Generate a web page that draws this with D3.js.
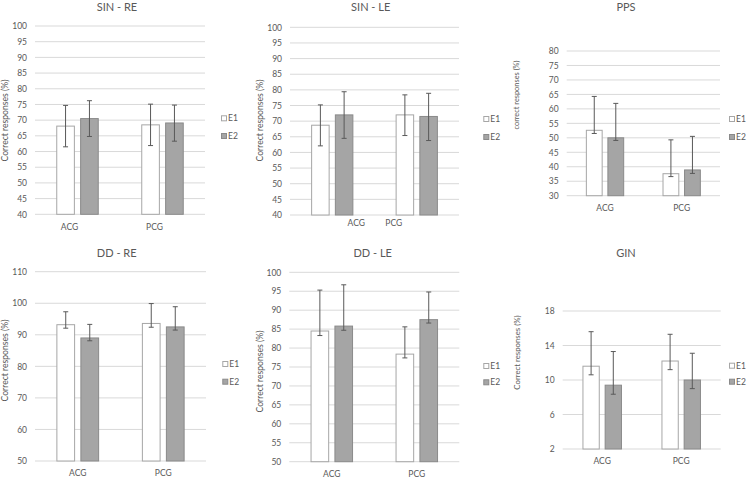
<!DOCTYPE html>
<html>
<head>
<meta charset="utf-8">
<script src="https://cdn.jsdelivr.net/npm/d3@7"></script>
<style>
  html, body { margin: 0; padding: 0; background: #fff; }
  svg { display: block; font-family: Lato, "Open Sans", sans-serif; }
</style>
</head>
<body>
<svg id="chart" width="747" height="480"></svg>
<script>
// ---------------- DATA ----------------
const categories = ["ACG", "PCG"];
const seriesNames = ["E1", "E2"];
const titles = ["SIN - RE", "SIN  - LE", "PPS", "DD - RE", "DD - LE", "GIN"];
const yLabels = [
  "Correct responses (%)", "Correct responses (%)", "correct responses (%)",
  "Correct responses (%)", "Correct responses (%)", "Correct responses (%)"
];
const yDomains = [[40, 100], [40, 100], [30, 80], [50, 110], [50, 100], [2, 18]];
const yTicks = [
  [40, 45, 50, 55, 60, 65, 70, 75, 80, 85, 90, 95, 100],
  [40, 45, 50, 55, 60, 65, 70, 75, 80, 85, 90, 95, 100],
  [30, 35, 40, 45, 50, 55, 60, 65, 70, 75, 80],
  [50, 60, 70, 80, 90, 100, 110],
  [50, 55, 60, 65, 70, 75, 80, 85, 90, 95, 100],
  [2, 6, 10, 14, 18]
];
// per panel: [ACG, PCG]
const e1Values = [[68.1, 68.5], [68.7, 72.0], [52.6, 37.6], [93.2, 93.6], [84.5, 78.4], [11.6, 12.2]];
const e2Values = [[70.5, 69.1], [72.0, 71.5], [50.0, 38.9], [89.0, 92.5], [85.8, 87.5], [9.4, 10.0]];
const e1ErrPlus = [[6.6, 6.6], [6.5, 6.4], [11.7, 11.7], [4.1, 6.3], [10.8, 7.2], [4.0, 3.1]];
const e1ErrMinus = [[6.6, 6.6], [6.6, 6.6], [1.1, 1.0], [1.1, 1.2], [1.2, 1.0], [1.0, 1.0]];
const e2ErrPlus = [[5.7, 5.7], [7.4, 7.4], [11.9, 11.6], [4.3, 6.4], [10.9, 7.3], [3.9, 3.1]];
const e2ErrMinus = [[5.7, 5.8], [7.5, 7.7], [0.9, 1.2], [0.9, 1.0], [1.1, 0.9], [1.05, 1.0]];

// ---------------- LAYOUT ----------------
const layout = [
  { x0: 35, x1: 205, y0: 26, y1: 214.3, tx: 117, ty: 7.5, ylx: 5, yly: 120.5, ylfs: 8.6,
    lx: 221, ly: [118.3, 136], cy: 226.7, cdx: [-8, -8] },
  { x0: 290, x1: 459, y0: 27.3, y1: 215, tx: 370.7, ty: 7.5, ylx: 260, yly: 120.5, ylfs: 8.6,
    lx: 483.3, ly: [119, 137], cy: 223.3, cdx: [24, -23] },
  { x0: 566.7, x1: 720, y0: 51, y1: 195.7, tx: 626, ty: 7.5, ylx: 516.7, yly: 95, ylfs: 7.4,
    lx: 729, ly: [119, 137], cy: 208.3, cdx: [0, 0] },
  { x0: 35, x1: 206, y0: 271.7, y1: 461, tx: 116.7, ty: 252.7, ylx: 5, yly: 360.5, ylfs: 8.6,
    lx: 222.3, ly: [364, 381.7], cy: 473.3, cdx: [0, 0] },
  { x0: 289.3, x1: 459.3, y0: 272.3, y1: 461.7, tx: 372.7, ty: 253.3, ylx: 260, yly: 371.5, ylfs: 8.6,
    lx: 483.3, ly: [366, 382.3], cy: 474.3, cdx: [0, 0] },
  { x0: 562.7, x1: 720.7, y0: 311, y1: 449, tx: 626, ty: 253.3, ylx: 517.3, yly: 352.5, ylfs: 7.8,
    lx: 729, ly: [365.7, 381.7], cy: 461, cdx: [0, 0] }
];

const textColor = "#595959";
const gridColor = "#d9d9d9";
const fills = { E1: "#ffffff", E2: "#a5a5a5" };
const strokes = { E1: "#a6a6a6", E2: "#8a8a8a" };
const errColor = "#595959";

const svg = d3.select("#chart");

layout.forEach((L, i) => {
  const g = svg.append("g");
  const y = d3.scaleLinear().domain(yDomains[i]).range([L.y1, L.y0]);
  const x = d3.scaleBand().domain(categories).range([L.x0, L.x1]).paddingInner(0.5).paddingOuter(0.25);
  const xs = d3.scaleBand().domain(seriesNames).range([0, x.bandwidth()]).paddingInner(0.22);

  // gridlines
  g.selectAll("line.grid").data(yTicks[i]).join("line")
    .attr("x1", L.x0).attr("x2", L.x1)
    .attr("y1", d => y(d)).attr("y2", d => y(d))
    .attr("stroke", gridColor).attr("stroke-width", 1);

  // y axis labels via d3 axis
  const yAxis = d3.axisLeft(y).tickValues(yTicks[i]).tickSize(0).tickPadding(8);
  const ya = g.append("g").attr("transform", `translate(${L.x0},0)`).call(yAxis);
  ya.select(".domain").remove();
  ya.selectAll("text").attr("fill", textColor).attr("font-size", 8.5)
    .attr("font-family", "Lato, sans-serif");

  // x axis labels
  const xAxis = d3.axisBottom(x).tickSize(0).tickPadding(0);
  const xa = g.append("g").attr("transform", `translate(0,${L.cy})`).call(xAxis);
  xa.select(".domain").remove();
  xa.selectAll("text").attr("fill", textColor).attr("font-size", 8.5)
    .attr("font-family", "Lato, sans-serif")
    .attr("dy", "0.35em").attr("y", 0)
    .attr("dx", (d, k) => L.cdx[k]);

  // bars
  const rows = [];
  categories.forEach((c, k) => {
    rows.push({ c, s: "E1", v: e1Values[i][k], p: e1ErrPlus[i][k], m: e1ErrMinus[i][k] });
    rows.push({ c, s: "E2", v: e2Values[i][k], p: e2ErrPlus[i][k], m: e2ErrMinus[i][k] });
  });
  const base = yDomains[i][0];
  g.selectAll("rect.bar").data(rows).join("rect")
    .attr("x", d => x(d.c) + xs(d.s) + 0.5)
    .attr("width", xs.bandwidth() - 1)
    .attr("y", d => y(d.v))
    .attr("height", d => y(base) - y(d.v))
    .attr("fill", d => fills[d.s])
    .attr("stroke", d => strokes[d.s])
    .attr("stroke-width", 1);

  // error bars
  const cx = d => x(d.c) + xs(d.s) + xs.bandwidth() / 2;
  const eg = g.selectAll("g.err").data(rows).join("g");
  eg.append("line")
    .attr("x1", cx).attr("x2", cx)
    .attr("y1", d => y(d.v + d.p)).attr("y2", d => y(d.v - d.m))
    .attr("stroke", errColor).attr("stroke-width", 1);
  eg.append("line")
    .attr("x1", d => cx(d) - 2.5).attr("x2", d => cx(d) + 2.5)
    .attr("y1", d => y(d.v + d.p)).attr("y2", d => y(d.v + d.p))
    .attr("stroke", errColor).attr("stroke-width", 1);
  eg.append("line")
    .attr("x1", d => cx(d) - 2.5).attr("x2", d => cx(d) + 2.5)
    .attr("y1", d => y(d.v - d.m)).attr("y2", d => y(d.v - d.m))
    .attr("stroke", errColor).attr("stroke-width", 1);

  // title
  g.append("text").attr("x", L.tx).attr("y", L.ty).attr("dy", "0.35em")
    .attr("text-anchor", "middle").attr("font-size", 11).attr("fill", textColor)
    .text(titles[i]);

  // y label
  g.append("text").attr("transform", `translate(${L.ylx},${L.yly}) rotate(-90)`)
    .attr("dy", "0.35em").attr("text-anchor", "middle")
    .attr("font-size", L.ylfs).attr("fill", textColor).text(yLabels[i]);

  // legend
  seriesNames.forEach((s, k) => {
    g.append("rect").attr("x", L.lx + 0.5).attr("y", L.ly[k] - 2.5).attr("width", 5).attr("height", 5)
      .attr("fill", fills[s]).attr("stroke", strokes[s]).attr("stroke-width", 1);
    g.append("text").attr("x", L.lx + 7).attr("y", L.ly[k]).attr("dy", "0.35em")
      .attr("font-size", 8.5).attr("fill", textColor).text(s);
  });
});
</script>
</body>
</html>
